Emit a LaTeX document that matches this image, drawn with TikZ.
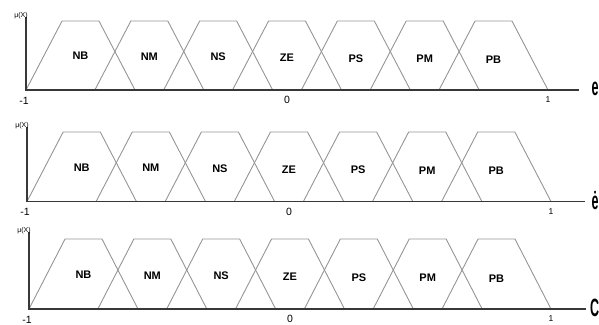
\documentclass[tikz,border=0pt]{standalone}
\usepackage{fontspec}
\setmainfont{Liberation Sans}
\definecolor{trapgray}{HTML}{959595}
\definecolor{axgray}{HTML}{383838}
\begin{document}
\begin{tikzpicture}[x=1pt,y=-1pt,
  trap/.style={draw=trapgray, line width=0.9pt, line join=miter},
  axisline/.style={draw=axgray, line width=1.5pt},
  lab/.style={font=\fontsize{11}{11}\selectfont\bfseries, inner sep=0pt},
  ticklab/.style={font=\fontsize{10.5}{11}\selectfont, inner sep=0pt},
  smalltick/.style={font=\fontsize{8.5}{9}\selectfont, inner sep=0pt},
  mulab/.style={font=\fontsize{7}{7}\selectfont, inner sep=0pt},
  varlab/.style={inner sep=0pt, anchor=west}]
\useasboundingbox (0,0) rectangle (599,324);
\foreach \n/\xa/\xb/\yb/\yt/\ya/\xe/\xs/\sym in
  {1/26/548/90/21/17/579/591.5/e,
   2/27/551/201.5/132/127/585/591.5/ė,
   3/29/551/309/239/232/586/590/C}{
  \pgfmathsetmacro\sp{\xb-\xa}
  \pgfmathsetmacro\P{\sp*0.13186}
  \pgfmathsetmacro\w{\sp*0.2088}
  \pgfmathsetmacro\s{\sp*0.069}
  \foreach \i/\name in {0/NB,1/NM,2/NS,3/ZE,4/PS,5/PM,6/PB}{
    \pgfmathsetmacro\L{\xa+\i*\P}
    \draw[trap] (\L,\yb) -- (\L+\s,\yt) -- (\L+\w-\s,\yt) -- (\L+\w,\yb);
    \node[lab] (l\n\name) at (\L+\w/2, \yb-34+0.6*\i) {\name};
  }
  \coordinate (o\n) at (\xa,\yb);
  \coordinate (t\n) at (\xa,\ya);
  \coordinate (r\n) at (\xe,\yb);
  \draw[axisline] (t\n) -- (o\n) -- (r\n);
  \node[ticklab] (m\n) at (\xa-2,\yb+10.5) {-1};
  \node[ticklab] (z\n) at ({(\xa+\xb)/2},\yb+10) {0};
  \node[smalltick] (p\n) at (\xb,\yb+10) {1};
  \node[mulab] (mu\n) at (\xa-5,\ya-1.5) {μ(X)};
  \node[varlab] (v\n) at (\xs,\yb-1) {\scalebox{0.5}[1]{\fontsize{25}{25}\selectfont\bfseries \sym}};
}
\end{tikzpicture}
\end{document}
